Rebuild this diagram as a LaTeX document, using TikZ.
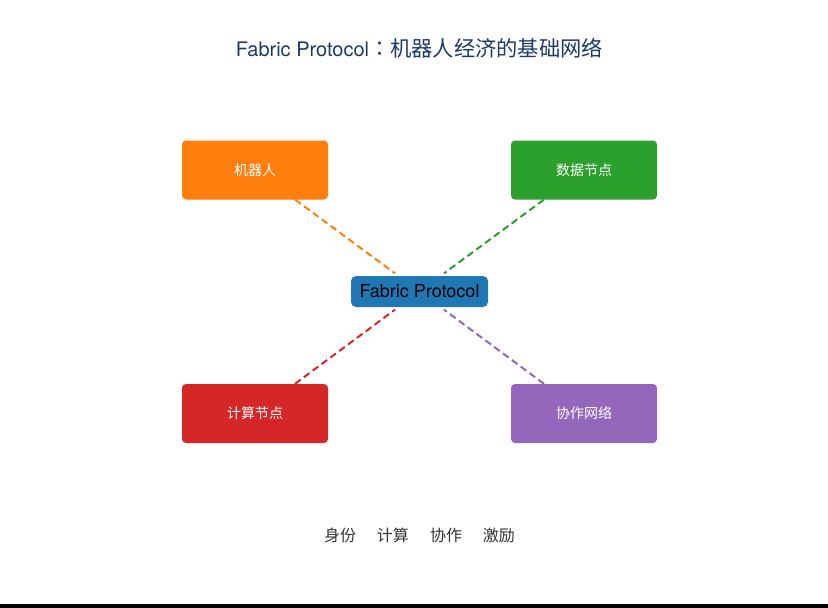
\documentclass[tikz,border=0pt]{standalone}
\usepackage{fontspec}
\setmainfont{TeX Gyre Heros}
\newfontfamily\cjk{Noto Sans CJK SC}
\newfontfamily\cjktc{Noto Sans CJK TC}
\usepackage{xcolor}
\usetikzlibrary{positioning}

\definecolor{tabblue}{HTML}{1F77B4}
\definecolor{taborange}{HTML}{FF7F0E}
\definecolor{tabgreen}{HTML}{2CA02C}
\definecolor{tabred}{HTML}{D62728}
\definecolor{tabpurple}{HTML}{9467BD}
\definecolor{titlenavy}{HTML}{1B3A6B}

\tikzset{
  partbox/.style={rounded corners=4pt, minimum width=146pt, minimum height=59pt,
    text=white, font=\cjk\fontsize{14}{16}\selectfont, inner sep=0pt},
  hubbox/.style={rounded corners=5pt, fill=tabblue, minimum width=137pt,
    minimum height=31pt, font=\fontsize{18}{20}\selectfont, inner sep=0pt},
  link/.style={line width=2pt, dash pattern=on 7pt off 4pt, shorten >=4pt}
}

\begin{document}
\begin{tikzpicture}[x=1pt, y=-1pt]

    \useasboundingbox (0,0) rectangle (828,608);
    \fill[black] (0,604) rectangle (828,608);

    \node[text=titlenavy, font=\fontsize{20}{24}\selectfont] (title) at (419.5,48)
        {Fabric Protocol{\cjktc\fontsize{21}{24}\selectfont ：}{\cjk\fontsize{21.3}{24}\selectfont 机器人经济的基础网络}};

    \node[hubbox] (hub) at (419.5,291.5) {Fabric Protocol};

    \node[partbox, fill=taborange] (robot) at (255,170) {机器人};
    \node[partbox, fill=tabgreen] (data) at (584,170) {数据节点};
    \node[partbox, fill=tabred] (compute) at (255,413.5) {计算节点};
    \node[partbox, fill=tabpurple] (collab) at (584,413.5) {协作网络};

    \draw[link, taborange] (robot) -- (hub);
    \draw[link, tabgreen] (data) -- (hub);
    \draw[link, tabred] (compute) -- (hub);
    \draw[link, tabpurple] (collab) -- (hub);

    \node[text=black!80, font=\cjk\fontsize{16}{18}\selectfont] (pillars) at (419.5,535)
        {身份\hspace{21pt}计算\hspace{21pt}协作\hspace{21pt}激励};

\end{tikzpicture}
\end{document}
